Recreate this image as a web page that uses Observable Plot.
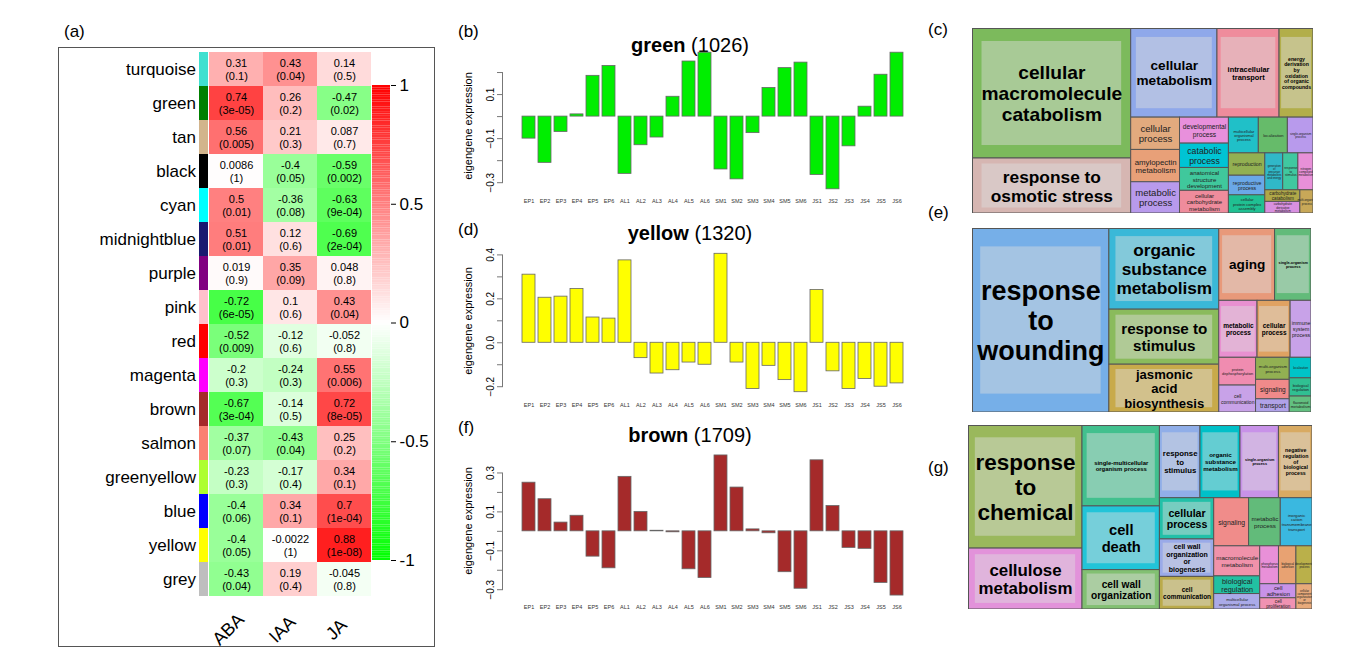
<!DOCTYPE html>
<html><head><meta charset="utf-8">
<script src="https://cdn.jsdelivr.net/npm/d3@7"></script>
<script src="https://cdn.jsdelivr.net/npm/@observablehq/plot@0.6"></script>
<style>
body{margin:0;background:#fff;font-family:"Liberation Sans",Arial,sans-serif;width:1367px;height:654px;position:relative;overflow:hidden}
.abs{position:absolute}
.lbl{position:absolute;font-size:17px}
.ttl{position:absolute;font-size:20px;text-align:center;width:470px;left:455px}
.ylab{position:absolute;font-size:11px;transform:rotate(-90deg);transform-origin:center;white-space:nowrap;width:160px;text-align:center}
</style></head><body>
<div class="lbl" style="left:64px;top:22px">(a)</div>
<div class="lbl" style="left:458px;top:22px">(b)</div>
<div class="lbl" style="left:928px;top:20px">(c)</div>
<div class="lbl" style="left:458px;top:220px">(d)</div>
<div class="lbl" style="left:928px;top:203px">(e)</div>
<div class="lbl" style="left:458px;top:418px">(f)</div>
<div class="lbl" style="left:928px;top:458px">(g)</div>
<div class="abs" style="left:58px;top:47px;width:377px;height:600px;border:1px solid #555;box-sizing:border-box"></div>
<div class="ttl" style="top:34px"><b>green</b> (1026)</div>
<div class="ttl" style="top:222px"><b>yellow</b> (1320)</div>
<div class="ttl" style="top:424px"><b>brown</b> (1709)</div>
<div class="ylab" style="left:388px;top:120px">eigengene expression</div>
<div class="ylab" style="left:388px;top:315px">eigengene expression</div>
<div class="ylab" style="left:388px;top:515px">eigengene expression</div>
<div id="root"></div>
<script>
const modules=["turquoise","green","tan","black","cyan","midnightblue","purple","pink","red","magenta","brown","salmon","greenyellow","blue","yellow","grey"];
const ABA=[0.31,0.74,0.56,0.0086,0.5,0.51,0.019,-0.72,-0.52,-0.2,-0.67,-0.37,-0.23,-0.4,-0.4,-0.43];
const ABAp=["0.1","3e-05","0.005","1","0.01","0.01","0.9","6e-05","0.009","0.3","3e-04","0.07","0.3","0.06","0.05","0.04"];
const IAA=[0.43,0.26,0.21,-0.4,-0.36,0.12,0.35,0.1,-0.12,-0.24,-0.14,-0.43,-0.17,0.34,-0.0022,0.19];
const IAAp=["0.04","0.2","0.3","0.05","0.08","0.6","0.09","0.6","0.6","0.3","0.5","0.04","0.4","0.1","1","0.4"];
const JA=[0.14,-0.47,0.087,-0.59,-0.63,-0.69,0.048,0.43,-0.052,0.55,0.72,0.25,0.34,0.7,0.88,-0.045];
const JAp=["0.5","0.02","0.7","0.002","9e-04","2e-04","0.8","0.04","0.8","0.006","8e-05","0.2","0.1","1e-04","1e-08","0.8"];
const hormones=["ABA","IAA","JA"];
const barColTicks=[1,0.5,0,-0.5,-1];

const samples=["EP1","EP2","EP3","EP4","EP5","EP6","AL1","AL2","AL3","AL4","AL5","AL6","SM1","SM2","SM3","SM4","SM5","SM6","JS1","JS2","JS3","JS4","JS5","JS6"];
const greenVals=[-0.10,-0.21,-0.07,0.01,0.185,0.23,-0.26,-0.13,-0.095,0.09,0.25,0.29,-0.24,-0.285,-0.075,0.13,0.22,0.245,-0.265,-0.33,-0.135,0.045,0.19,0.29];
const yellowVals=[0.31,0.205,0.21,0.245,0.115,0.11,0.375,-0.07,-0.14,-0.125,-0.09,-0.10,0.405,-0.09,-0.21,-0.105,-0.17,-0.225,0.24,-0.13,-0.21,-0.165,-0.20,-0.185];
const brownVals=[0.25,0.165,0.045,0.08,-0.13,-0.19,0.28,0.10,0.003,-0.005,-0.195,-0.24,0.39,0.225,0.01,-0.01,-0.21,-0.295,0.365,0.13,-0.085,-0.09,-0.265,-0.33];

const cNames=["cellular macromolecule catabolism","response to osmotic stress","cellular metabolism","intracellular transport","energy derivation by oxidation of organic compounds","cellular process","amylopectin metabolism","metabolic process","developmental process","catabolic process","anatomical structure development","cellular carbohydrate metabolism","multicellular organismal process","localization","single-organism process","reproduction","reproductive process","cellular protein complex assembly","generation of precursor metabolites and energy","response to stimulus","nitrogen compound metabolism","carbohydrate catabolism","carbohydrate derivative metabolism","multi-organism process"];
const cSizes=[20280,8580,7560,5440,2975,1550,1550,1500,1250,1170,1100,1090,1050,1020,900,800,700,650,650,550,550,400,400,300];
const cColors=["#7cba5c","#d6b6b2","#8fa8ea","#ef8c9c","#b2ae4a","#e2aa7e","#e8a078","#b89aec","#e890dc","#00c4d4","#40c89c","#ef8c9c","#20c0c8","#66bb6a","#b89aec","#92b052","#6aa8e8","#20c092","#30b8c8","#40c8a0","#e890d8","#b0a848","#d890e0","#c8a858"];

const eNames=["response to wounding","organic substance metabolism","response to stimulus","jasmonic acid biosynthesis","aging","single-organism process","metabolic process","cellular process","immune system process","protein dephosphorylation","cell communication","multi-organism process","signaling","transport","localization","biological regulation","flavonoid metabolism"];
const eSizes=[25400,9000,6100,5300,4070,2660,2200,1900,1200,1030,1000,750,660,450,450,400,350];
const eColors=["#76afe8","#3ab8d8","#8abb5c","#c8aa4a","#e8997a","#62bb7a","#e890d0","#e0a262","#c8a2e8","#f08cb0","#c8a2e8","#92b052","#f08a8a","#b0a2e8","#00c4c8","#30c092","#62c080"];

const gNames=["response to chemical","cellulose metabolism","single-multicellular organism process","cell death","cell wall organization","response to stimulus","organic substance metabolism","single-organism process","negative regulation of biological process","cellular process","cell wall organization or biogenesis","cell communication","signaling","metabolic process","inorganic cation transmembrane transport","macromolecule metabolism","biological regulation","multicellular organismal process","phosphorus metabolism","biological adhesion","developmental process","cell adhesion","cell proliferation","cellular component organization or biogenesis"];
const gSizes=[13800,6830,6160,4850,3000,2900,2860,2750,2400,2200,2000,1740,1650,1500,1500,1360,800,700,700,650,600,500,400,400];
const gColors=["#9ab85c","#e292da","#42c08e","#22c4d8","#82c072","#90aee8","#00c0c8","#c892e8","#d8aa62","#22c0a8","#9aaae8","#baaa4a","#f08c8a","#62bb7a","#3ab8e0","#f092aa","#22c0a2","#aaaae8","#e890d8","#e8a272","#bab04a","#c892e8","#f092b2","#e8aa7a"];

const root=document.getElementById("root");
function place(el,left,top){el.style.position="absolute";el.style.left=left+"px";el.style.top=top+"px";root.appendChild(el);}
const FF="Liberation Sans, Arial, sans-serif";

const cells=[];
modules.forEach((m,i)=>{[[ABA,ABAp],[IAA,IAAp],[JA,JAp]].forEach(([v,p],j)=>cells.push({m,h:hormones[j],v:v[i],t:v[i]+"\n("+p[i]+")"}));});
const heat=Plot.plot({width:164,height:600,marginLeft:0,marginRight:0,marginTop:3,marginBottom:50,
 x:{domain:hormones,padding:0,axis:null},
 y:{domain:modules,padding:0,axis:null},
 color:{type:"linear",domain:[-1,0,1],range:["#00ff00","#ffffff","#ff0000"]},
 style:{fontFamily:FF,overflow:"visible"},
 marks:[
  Plot.cell(cells,{x:"h",y:"m",fill:"v"}),
  Plot.text(cells,{x:"h",y:"m",text:"t",fontSize:11,lineHeight:1.15}),
  Plot.text(hormones,{x:d=>d,y:()=>"grey",text:d=>d,fontSize:18,rotate:-45,dy:50,dx:-8,fill:"black"})
 ]});
place(heat,208,47);
const swat=Plot.plot({width:150,height:600,marginLeft:141,marginRight:0,marginTop:3,marginBottom:50,
 x:{domain:["sw"],padding:0,axis:null},y:{domain:modules,padding:0,axis:null},
 style:{fontFamily:FF,overflow:"visible"},
 marks:[
  Plot.cell(modules,{x:()=>"sw",y:d=>d,fill:d=>d==="grey"?"#bebebe":d==="turquoise"?"#40e0d0":d}),
  Plot.text(modules,{x:()=>"sw",y:d=>d,text:d=>d,textAnchor:"end",dx:-8,fontSize:17,fill:"black"})
 ]});
place(swat,58,47);

const steps=d3.range(-1,1,0.01);
const cbar=Plot.plot({width:60,height:500,marginLeft:2,marginRight:40,marginTop:12,marginBottom:13,
 x:{domain:[0,1],axis:null},y:{domain:[-1,1],axis:null},
 color:{type:"linear",domain:[-1,0,1],range:["#00ff00","#ffffff","#ff0000"]},
 style:{fontFamily:FF},
 marks:[Plot.rect(steps,{x1:0,x2:1,y1:d=>d,y2:d=>d+0.01,fill:d=>d+0.005}),
  Plot.axisY(barColTicks,{anchor:"right",tickSize:5,fontSize:17,label:null,tickFormat:d=>String(d),stroke:"black"})]});
place(cbar,370,73);

function bars(vals,fill,domain,ticks,labeled,top,h){
 const data=samples.map((s,i)=>({s,v:vals[i]}));
 const innerH=h-24;
 const k=innerH/(domain[1]-domain[0]);
 const p=Plot.plot({width:470,height:h,marginLeft:47,marginRight:15,marginTop:2,marginBottom:22,
  x:{domain:samples,padding:0.17,insetLeft:13,axis:null,label:null},
  y:{domain,axis:null,label:null},
  style:{fontFamily:FF},
  marks:[
   Plot.barY(data,{x:"s",y:"v",fill,stroke:"#666",strokeWidth:0.8}),
   Plot.axisX({anchor:"bottom",tickSize:0,fontSize:5.5,tickPadding:8,fill:"#333",label:null}),
   Plot.axisY({anchor:"left",ticks,tickSize:5,tickRotate:-90,fontSize:10,label:null,tickFormat:d=>labeled.includes(+d.toFixed(2))?d3.format(".1f")(d):"",stroke:"#777"}),
   Plot.frame({anchor:"left",stroke:"#777",insetTop:(domain[1]-d3.max(ticks))*k,insetBottom:(d3.min(ticks)-domain[0])*k})
  ]});
 place(p,455,top);
}
bars(greenVals,"#00ee00",[-0.34,0.30],[0.2,0.1,0,-0.1,-0.2,-0.3],[0.1,-0.1,-0.3],48,165);
bars(yellowVals,"#ffff00",[-0.24,0.42],[0.4,0.3,0.2,0.1,0,-0.1,-0.2],[0.4,0.2,0,-0.2],248,169);
bars(brownVals,"#a52a2a",[-0.34,0.40],[0.3,0.2,0.1,0,-0.1,-0.2,-0.3],[0.3,0.1,-0.1,-0.3],451,168);

function wrap(name,w,fs,bold){
 const cw=fs*(bold?0.6:0.53);
 const maxc=Math.max(3,Math.floor(w*0.92/cw));
 const words=name.split(" ");const lines=[];let cur="";
 for(const wd of words){if(cur&&(cur+" "+wd).length>maxc){lines.push(cur);cur=wd;}else cur=cur?cur+" "+wd:wd;}
 lines.push(cur);
 const longest=d3.max(lines,l=>l.length)*cw;
 return {t:lines.join("\n"),n:lines.length,fits:longest<=w*0.95};
}
function tree(names,sizes,colors,w,h,left,top){
 const r=d3.hierarchy({children:names.map((n,i)=>({name:n,size:sizes[i],color:colors[i]}))}).sum(d=>d.size||0).sort((a,b)=>b.value-a.value);
 d3.treemap().size([w,h]).tile(d3.treemapSquarify)(r);
 const L=r.leaves().map(d=>{const bw=d.x1-d.x0,bh=d.y1-d.y0;let fs=3+Math.sqrt(bw*bh)/6;
   const bold=fs>10;let o=wrap(d.data.name,bw,fs,bold);
   while((!o.fits||o.n*fs*1.12>bh*0.92)&&fs>3){fs-=0.25;o=wrap(d.data.name,bw,fs,bold);}
   return {x0:d.x0,x1:d.x1,y0:d.y0,y1:d.y1,color:d.data.color,fs,t:o.t,big:bold};});
 const p=Plot.plot({width:w,height:h,margin:0,x:{domain:[0,w],range:[0,w],axis:null},y:{domain:[0,h],range:[0,h],axis:null},
  style:{fontFamily:FF},
  marks:[
   Plot.rect(L,{x1:"x0",x2:"x1",y1:"y0",y2:"y1",fill:"color",stroke:"#555",strokeWidth:1}),
   Plot.rect(L.filter(d=>d.big),{x1:d=>d.x0+(d.x1-d.x0)*0.06,x2:d=>d.x1-(d.x1-d.x0)*0.06,y1:d=>d.y0+(d.y1-d.y0)*0.1,y2:d=>d.y1-(d.y1-d.y0)*0.1,fill:"#ddd",fillOpacity:0.45}),
   Plot.text(L.filter(d=>d.big),{x:d=>(d.x0+d.x1)/2,y:d=>(d.y0+d.y1)/2,text:"t",fontSize:"fs",fontWeight:"bold",fill:"black",lineHeight:1.1}),
   Plot.text(L.filter(d=>!d.big),{x:d=>(d.x0+d.x1)/2,y:d=>(d.y0+d.y1)/2,text:"t",fontSize:"fs",fill:"#222",lineHeight:1.1}),
   Plot.frame({stroke:"#555"})
  ]});
 place(p,left,top);
}
tree(cNames,cSizes,cColors,341,185,972,28);
tree(eNames,eSizes,eColors,339,184,972,228);
tree(gNames,gSizes,gColors,344,184,968,425);
</script></body></html>
